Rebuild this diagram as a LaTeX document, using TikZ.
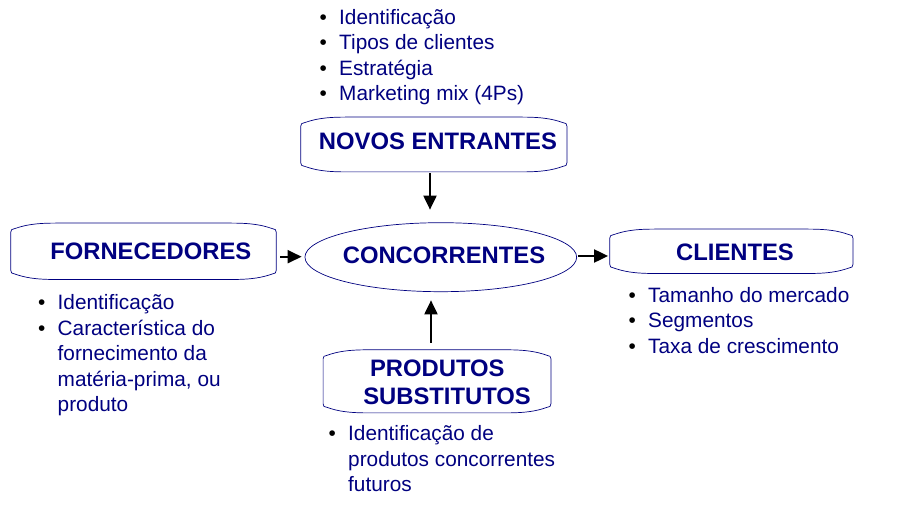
\documentclass[tikz,border=0pt]{standalone}
\usepackage{fontspec}
\setmainfont{Liberation Sans}
\usetikzlibrary{shapes.geometric,arrows.meta,calc}
\definecolor{navy}{RGB}{0,0,128}
\newcommand\bitem[1]{\makebox[19.5pt][l]{\color{black}\textbullet}#1}
\newcommand\bcont[1]{\hspace*{19.5pt}#1}
\newcommand\wbox[1]{%
\draw[boxline] ($(#1.south west)+(0,-9)$) -- ($(#1.north west)+(0,9)$)
 .. controls ($(#1.north west)+(0,6.5)$) and ($(#1.north west)+(1,6)$) .. ($(#1.north west)+(4,5.5)$)
 .. controls ($(#1.north west)+(14,2)$) and ($(#1.north west)+(24,0)$) .. ($(#1.north west)+(45,0)$)
 -- ($(#1.north east)+(-45,0)$)
 .. controls ($(#1.north east)+(-24,0)$) and ($(#1.north east)+(-14,2)$) .. ($(#1.north east)+(-4,5.5)$)
 .. controls ($(#1.north east)+(-1,6)$) and ($(#1.north east)+(0,6.5)$) .. ($(#1.north east)+(0,9)$)
 -- ($(#1.south east)+(0,-9)$)
 .. controls ($(#1.south east)+(0,-6.5)$) and ($(#1.south east)+(-1,-6)$) .. ($(#1.south east)+(-4,-5.5)$)
 .. controls ($(#1.south east)+(-14,-2)$) and ($(#1.south east)+(-24,0)$) .. ($(#1.south east)+(-45,0)$)
 -- ($(#1.south west)+(45,0)$)
 .. controls ($(#1.south west)+(24,0)$) and ($(#1.south west)+(14,-2)$) .. ($(#1.south west)+(4,-5.5)$)
 .. controls ($(#1.south west)+(1,-6)$) and ($(#1.south west)+(0,-6.5)$) .. ($(#1.south west)+(0,-9)$) -- cycle;}
\tikzset{
  boxline/.style={draw=navy, line width=0.7pt},
  boxarea/.style={draw=none, inner sep=0pt, rectangle},
  title/.style={text=navy, font=\fontsize{23.8}{27.6}\selectfont\bfseries, inner sep=0pt},
  blist/.style={text=navy, font=\fontsize{20.8}{25.4}\selectfont, inner sep=0pt, anchor=base west},
  arr/.style={line width=2pt, draw=black, -{Triangle[length=14pt,width=13pt]}}
}
\begin{document}
\begin{tikzpicture}[x=1pt,y=-1pt]
\useasboundingbox[fill=white] (0,0) rectangle (916,510);

% box areas
\node[boxarea, minimum width=265.7pt, minimum height=54.4pt] (ne) at (433.85,144.5) {};
\node[boxarea, minimum width=265pt, minimum height=56pt] (fo) at (143.5,251.3) {};
\node[boxarea, minimum width=242.7pt, minimum height=44pt] (cl) at (731.35,251.3) {};
\node[boxarea, minimum width=227.4pt, minimum height=62.7pt] (ps) at (437,381.35) {};
\node[ellipse, draw=navy, line width=0.7pt, inner sep=0pt, minimum width=271.7pt, minimum height=69pt] (cc) at (440.8,257.2) {};

\wbox{ne}
\wbox{fo}
\wbox{cl}
\wbox{ps}

% titles
\node[title, anchor=base] (neT) at (438,150) {NOVOS ENTRANTES};
\node[title, anchor=base] (foT) at (150.8,260) {FORNECEDORES};
\node[title, anchor=base] (clT) at (735,260.7) {CLIENTES};
\node[title, anchor=base] (ccT) at (444,264) {CONCORRENTES};
\node[title, anchor=base west] (psT) at (363.1,376.7) {\begin{tabular}[t]{@{}l@{}}\hspace*{6.8pt}PRODUTOS\\SUBSTITUTOS\end{tabular}};

% lists
\node[blist] (neL) at (319.5,24.5) {\begin{tabular}[t]{@{}l@{}}\bitem{Identificação}\\\bitem{Tipos de clientes}\\\bitem{Estratégia}\\\bitem{Marketing mix (4Ps)}\end{tabular}};
\node[blist] (foL) at (38,310) {\begin{tabular}[t]{@{}l@{}}\bitem{Identificação}\\\bitem{Característica do}\\\bcont{fornecimento da}\\\bcont{matéria-prima, ou}\\\bcont{produto}\end{tabular}};
\node[blist] (clL) at (628.5,302.5) {\begin{tabular}[t]{@{}l@{}}\bitem{Tamanho do mercado}\\\bitem{Segmentos}\\\bitem{Taxa de crescimento}\end{tabular}};
\node[blist] (psL) at (328.5,441) {\begin{tabular}[t]{@{}l@{}}\bitem{Identificação de}\\\bcont{produtos concorrentes}\\\bcont{futuros}\end{tabular}};

% connectors
\draw[arr] ([shift={(-3.85,1.3)}]ne.south) -- ([shift={(-10.8,-12.7)}]cc.north);
\draw[arr] ([shift={(4,5.4)}]fo.east) -- ([shift={(-3,-0.5)}]cc.west);
\draw[arr] ([shift={(0.8,-1.2)}]cc.east) -- ([shift={(-1.7,4.7)}]cl.west);
\draw[arr] ([shift={(-6,-7)}]ps.north) -- ([shift={(-9.8,8.3)}]cc.south);
\end{tikzpicture}
\end{document}
